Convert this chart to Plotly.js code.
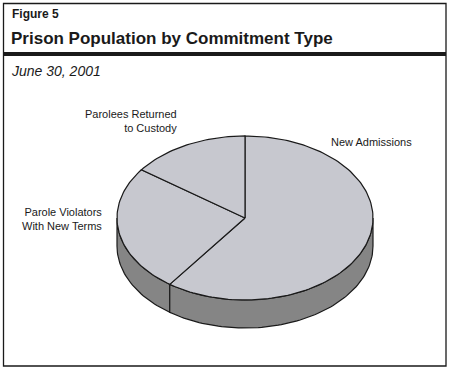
<!DOCTYPE html>
<html>
<head>
<meta charset="utf-8">
<script src="https://cdn.plot.ly/plotly-3.0.1.min.js"></script>
<style>html,body{margin:0;padding:0;background:#fff;}#chart{width:449px;height:370px;}</style>
</head>
<body>
<div id="chart"></div>
<script>
// Data
const figureLabel = 'Figure 5';
const chartTitle = 'Prison Population by Commitment Type';
const subtitle = 'June 30, 2001';
const categories = ['New Admissions', 'Parole Violators With New Terms', 'Parolees Returned to Custody'];
const displayLabels = ['New Admissions', 'Parole Violators<br>With New Terms', 'Parolees Returned<br>to Custody'];
const values = [60, 25, 15];

// Geometry of the tilted pie (pixel space)
const cx = 245, cy = 218, rx = 128, ry = 82, depth = 28;
const topColor = '#c7c8cf', sideColor = '#858585', edge = '#1a1a1a';
const total = values.reduce((a, b) => a + b, 0);
const rad = d => d * Math.PI / 180;
const px = t => cx + rx * Math.cos(rad(t));
const py = (t, off) => cy - ry * Math.sin(rad(t)) + (off || 0);

function arc(a0, a1, off) {
  const n = Math.max(2, Math.ceil(Math.abs(a1 - a0) / 1.5));
  const xs = [], ys = [];
  for (let i = 0; i <= n; i++) {
    const t = a0 + (a1 - a0) * i / n;
    xs.push(px(t)); ys.push(py(t, off));
  }
  return [xs, ys];
}

const traces = [];
// slice angles, clockwise from 12 o'clock
const bounds = [];
let ang = 90;
values.forEach(v => {
  const span = v / total * 360;
  bounds.push([ang, ang - span]);
  ang -= span;
});

// side (front half: 180..360)
const cuts = [180];
bounds.forEach(b => {
  let t = ((b[1] % 360) + 360) % 360;
  if (t > 180 && t < 360) cuts.push(t);
});
cuts.push(360);
cuts.sort((a, b) => a - b);
for (let i = 0; i < cuts.length - 1; i++) {
  const [x1, y1] = arc(cuts[i], cuts[i + 1], 0);
  const [x2, y2] = arc(cuts[i + 1], cuts[i], depth);
  traces.push({
    type: 'scatter', mode: 'lines', x: x1.concat(x2, [x1[0]]), y: y1.concat(y2, [y1[0]]),
    fill: 'toself', fillcolor: sideColor, line: {color: edge, width: 1.2},
    hoverinfo: 'skip', showlegend: false
  });
}

// top face slices
bounds.forEach((b, i) => {
  const [xs, ys] = arc(b[0], b[1], 0);
  traces.push({
    type: 'scatter', mode: 'lines',
    x: [cx].concat(xs, [cx]), y: [cy].concat(ys, [cy]),
    fill: 'toself', fillcolor: topColor, line: {color: edge, width: 1.2},
    name: categories[i], hoverinfo: 'skip', showlegend: false
  });
});

const layout = {
  width: 449, height: 370,
  margin: {l: 0, r: 0, t: 0, b: 0},
  paper_bgcolor: '#fff', plot_bgcolor: '#fff',
  xaxis: {range: [0, 449], visible: false, fixedrange: true},
  yaxis: {range: [370, 0], visible: false, fixedrange: true},
  font: {family: 'Liberation Sans, Arial, sans-serif', color: '#1a1a1a'},
  shapes: [
    {type: 'rect', xref: 'x', yref: 'y', x0: 3.5, x1: 446, y0: 3.5, y1: 366, line: {color: '#1a1a1a', width: 1.3}},
    {type: 'line', xref: 'x', yref: 'y', x0: 3, x1: 446, y0: 54, y1: 54, line: {color: '#1a1a1a', width: 4}}
  ],
  annotations: [
    {text: '<b>' + figureLabel + '</b>', x: 10, y: 14, xref: 'x', yref: 'y', xanchor: 'left', yanchor: 'middle', showarrow: false, font: {size: 12}},
    {text: '<b>' + chartTitle + '</b>', x: 9, y: 38, xref: 'x', yref: 'y', xanchor: 'left', yanchor: 'middle', showarrow: false, font: {size: 17}},
    {text: '<i>' + subtitle + '</i>', x: 9, y: 71, xref: 'x', yref: 'y', xanchor: 'left', yanchor: 'middle', showarrow: false, font: {size: 14}},
    {text: displayLabels[0], x: 329, y: 142, xref: 'x', yref: 'y', xanchor: 'left', yanchor: 'middle', showarrow: false, font: {size: 11}},
    {text: displayLabels[1], x: 104, y: 219, xref: 'x', yref: 'y', xanchor: 'right', yanchor: 'middle', align: 'right', showarrow: false, font: {size: 11}},
    {text: displayLabels[2], x: 179, y: 121, xref: 'x', yref: 'y', xanchor: 'right', yanchor: 'middle', align: 'right', showarrow: false, font: {size: 11}}
  ]
};

Plotly.newPlot('chart', traces, layout, {staticPlot: true, displayModeBar: false});
</script>
</body>
</html>
